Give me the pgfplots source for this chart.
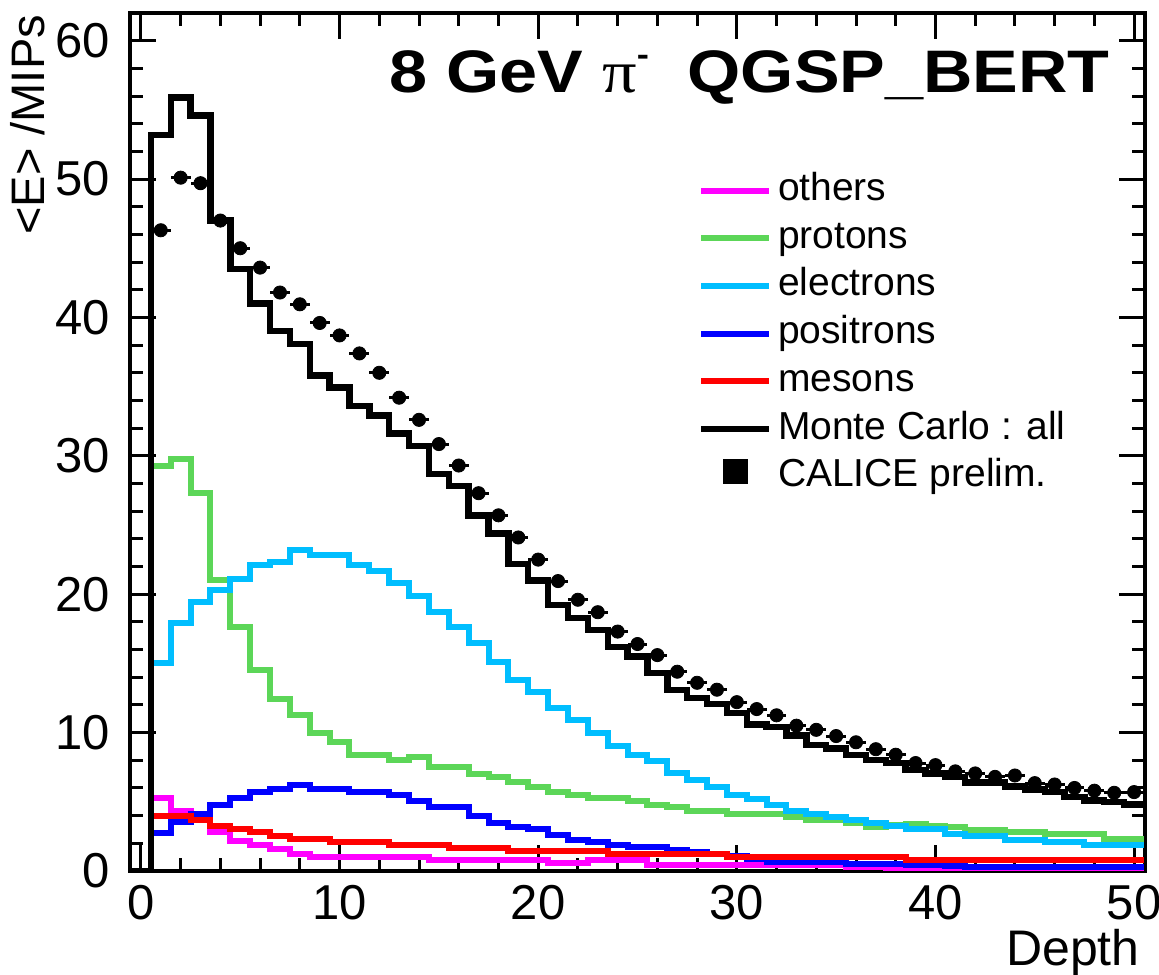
\documentclass[border=0pt]{standalone}
\usepackage{fontspec}
\setmainfont{Liberation Sans}
\newfontfamily\serifpi{Liberation Serif}
\usepackage{graphicx}
\usepackage{pgfplots}
\usepackage{pgfplotstable}
\pgfplotsset{compat=1.18}
\definecolor{cmag}{RGB}{255,0,255}
\definecolor{cgreen}{RGB}{92,214,88}
\definecolor{ccyan}{RGB}{0,190,255}
\definecolor{cblue}{RGB}{0,0,255}
\definecolor{cred}{RGB}{255,0,0}

\pgfplotstableread{
x others protons electrons positrons mesons all
-0.5 0 0 0 0 0 0
0.5 5.3 29.3 15.0 2.75 3.95 53.2
1.5 4.35 29.8 17.9 3.55 3.95 55.9
2.5 3.9 27.3 19.45 4.15 3.65 54.6
3.5 2.8 21.0 20.3 4.8 3.25 47.0
4.5 2.15 17.6 21.1 5.3 3.0 43.5
5.5 1.85 14.5 22.1 5.7 2.8 41.0
6.5 1.6 12.4 22.35 5.95 2.55 39.0
7.5 1.2 11.3 23.2 6.2 2.3 38.1
8.5 1.0 10.0 22.8 5.95 2.3 35.8
9.5 1.0 9.3 22.8 5.95 2.1 34.95
10.5 1.0 8.4 22.1 5.7 2.1 33.6
11.5 1.0 8.4 21.7 5.7 2.1 32.9
12.5 1.0 8.0 20.8 5.5 1.85 31.6
13.5 1.0 8.25 19.9 5.05 1.85 30.7
14.5 0.78 7.5 18.7 4.6 1.85 28.7
15.5 0.78 7.5 17.6 4.6 1.65 27.8
16.5 0.78 7.0 16.5 3.95 1.65 25.7
17.5 0.78 6.8 15.1 3.45 1.65 24.4
18.5 0.78 6.4 13.8 3.2 1.45 22.2
19.5 0.78 6.1 12.9 3.0 1.45 21.0
20.5 0.55 5.7 11.8 2.6 1.45 19.2
21.5 0.55 5.5 10.9 2.25 1.45 18.3
22.5 0.78 5.3 10.0 2.1 1.45 17.4
23.5 0.78 5.3 9.0 1.85 1.2 16.2
24.5 0.78 5.05 8.4 1.7 1.2 15.5
25.5 0.45 4.8 7.95 1.7 1.2 14.3
26.5 0.45 4.6 7.1 1.55 1.2 13.1
27.5 0.45 4.35 6.55 1.35 1.2 12.5
28.5 0.45 4.35 6.1 1.2 1.2 12.05
29.5 0.45 4.15 5.5 1.05 1.0 11.4
30.5 0.45 4.15 5.2 0.9 1.0 10.6
31.5 0.45 4.15 4.8 0.65 1.0 10.4
32.5 0.45 3.9 4.35 0.65 1.0 9.8
33.5 0.45 3.7 4.15 0.65 1.0 9.1
34.5 0.45 3.65 3.9 0.65 1.0 8.85
35.5 0.3 3.45 3.65 0.5 1.0 8.4
36.5 0.3 3.2 3.45 0.5 1.0 8.0
37.5 0.22 3.3 3.25 0.5 1.0 7.8
38.5 0.22 3.4 3.0 0.45 0.78 7.3
39.5 0.1 3.25 3.0 0.4 0.78 7.05
40.5 0.1 3.15 2.7 0.35 0.78 6.8
41.5 0.1 2.95 2.5 0.3 0.78 6.4
42.5 0.1 2.95 2.5 0.3 0.78 6.4
43.5 0.1 2.8 2.25 0.3 0.78 6.1
44.5 0.1 2.8 2.25 0.3 0.78 5.9
45.5 0.1 2.7 2.1 0.3 0.78 5.7
46.5 0.1 2.7 2.1 0.3 0.78 5.35
47.5 0.1 2.7 1.85 0.3 0.78 5.1
48.5 0.1 2.3 1.85 0.3 0.78 5.0
49.5 0.1 2.3 1.85 0.3 0.78 4.8
50.5 0.1 2.3 1.85 0.3 0.78 4.8
}\histdata

\pgfplotstableread{
x y ex ey
1 46.3 0.5 0.4
2 50.1 0.5 0.4
3 49.7 0.5 0.4
4 47.0 0.5 0.4
5 45.0 0.5 0.4
6 43.6 0.5 0.4
7 41.8 0.5 0.4
8 40.95 0.5 0.4
9 39.6 0.5 0.4
10 38.7 0.5 0.4
11 37.4 0.5 0.4
12 36.0 0.5 0.4
13 34.2 0.5 0.4
14 32.6 0.5 0.4
15 30.85 0.5 0.4
16 29.3 0.5 0.4
17 27.3 0.5 0.4
18 25.7 0.5 0.4
19 24.1 0.5 0.4
20 22.5 0.5 0.4
21 20.95 0.5 0.4
22 19.6 0.5 0.4
23 18.7 0.5 0.4
24 17.3 0.5 0.4
25 16.4 0.5 0.4
26 15.6 0.5 0.4
27 14.4 0.5 0.4
28 13.6 0.5 0.4
29 13.1 0.5 0.4
30 12.2 0.5 0.4
31 11.7 0.5 0.4
32 11.25 0.5 0.4
33 10.5 0.5 0.4
34 10.2 0.5 0.4
35 9.75 0.5 0.4
36 9.3 0.5 0.4
37 8.8 0.5 0.4
38 8.4 0.5 0.4
39 7.8 0.5 0.4
40 7.65 0.5 0.4
41 7.2 0.5 0.4
42 7.05 0.5 0.4
43 6.8 0.5 0.4
44 6.9 0.5 0.4
45 6.35 0.5 0.4
46 6.25 0.5 0.4
47 6.0 0.5 0.4
48 5.8 0.5 0.4
49 5.65 0.5 0.4
50 5.7 0.5 0.4
}\caldata

\begin{document}
\begin{tikzpicture}
\begin{axis}[
  scale only axis,
  width=507.5pt, height=429pt,
  xmin=-0.55, xmax=50.55, ymin=0, ymax=62,
  xtick={0,10,...,50}, ytick={0,10,...,60},
  minor x tick num=4, minor y tick num=4,
  tick align=inside,
  major tick length=13pt, minor tick length=6.5pt,
  every tick/.style={black, line width=1.5pt},
  axis line style={line width=1.6pt},
  /pgf/number format/assume math mode=true,
  ticklabel style={font=\fontsize{24.5}{26}\selectfont},
  yticklabel style={anchor=east, inner sep=0pt, xshift=-10pt},
  xticklabel style={anchor=north, inner sep=0pt, yshift=-7pt},
  xlabel={Depth},
  ylabel={<E> /MIPs},
  every axis x label/.style={at={(axis description cs:0.995,-0.067)}, anchor=north east, inner sep=0pt, font=\fontsize{25}{26}\selectfont},
  every axis y label/.style={at={(axis description cs:-0.118,0.998)}, rotate=90, anchor=north east, inner sep=0pt, font=\fontsize{23.5}{25}\selectfont},
  legend style={draw=none, fill=none, at={(0.5596,0.814)}, anchor=north west, inner sep=0pt, outer sep=0pt,
     font=\fontsize{19.5}{20}\selectfont, row sep=5.85pt, column sep=3pt,
     nodes={inner sep=0pt, text height=14pt, text depth=4pt}},
  legend cell align=left,
  legend image code/.code={\draw[#1, line width=3pt] (0pt,0pt) -- (34pt,0pt);},
]
\addplot[const plot, cmag, line width=3pt] table[x=x, y=others] {\histdata};
\addlegendentry{others}
\addplot[const plot, cgreen, line width=3pt] table[x=x, y=protons] {\histdata};
\addlegendentry{protons}
\addplot[const plot, ccyan, line width=3pt] table[x=x, y=electrons] {\histdata};
\addlegendentry{electrons}
\addplot[const plot, cblue, line width=3pt] table[x=x, y=positrons] {\histdata};
\addlegendentry{positrons}
\addplot[const plot, cred, line width=3pt] table[x=x, y=mesons] {\histdata};
\addlegendentry{mesons}
\addplot[const plot, black, line width=3.2pt] table[x=x, y=all] {\histdata};
\addlegendentry{Monte Carlo : all}
\addplot[forget plot, black, only marks, mark=*, mark size=3.3pt,
  error bars/.cd, x dir=both, x explicit, y dir=both, y explicit, error mark=none,
  error bar style={line width=1.5pt, black}]
  table[x=x, y=y, x error=ex, y error=ey] {\caldata};
\addlegendimage{legend image code/.code={\fill[black] (11pt,-3.5pt) rectangle (23pt,8.5pt);}}
\addlegendentry{CALICE prelim.}
\node[anchor=base east, inner sep=0pt] at (rel axis cs:0.9655,0.9068)
  {\scalebox{1.14}[1]{\fontsize{30}{30}\selectfont\bfseries 8 GeV {\mdseries\serifpi π}\raisebox{0.45em}{\fontsize{16}{16}\selectfont -}\hspace{17pt}QGSP\_BERT}};
\coordinate (SW) at (rel axis cs:0,0);
\coordinate (NE) at (rel axis cs:1,1);
\end{axis}
\pgfresetboundingbox
\path[use as bounding box] ([shift={(-65pt,-52pt)}]SW) rectangle ([shift={(7pt,6.5pt)}]NE);
\end{tikzpicture}
\end{document}
